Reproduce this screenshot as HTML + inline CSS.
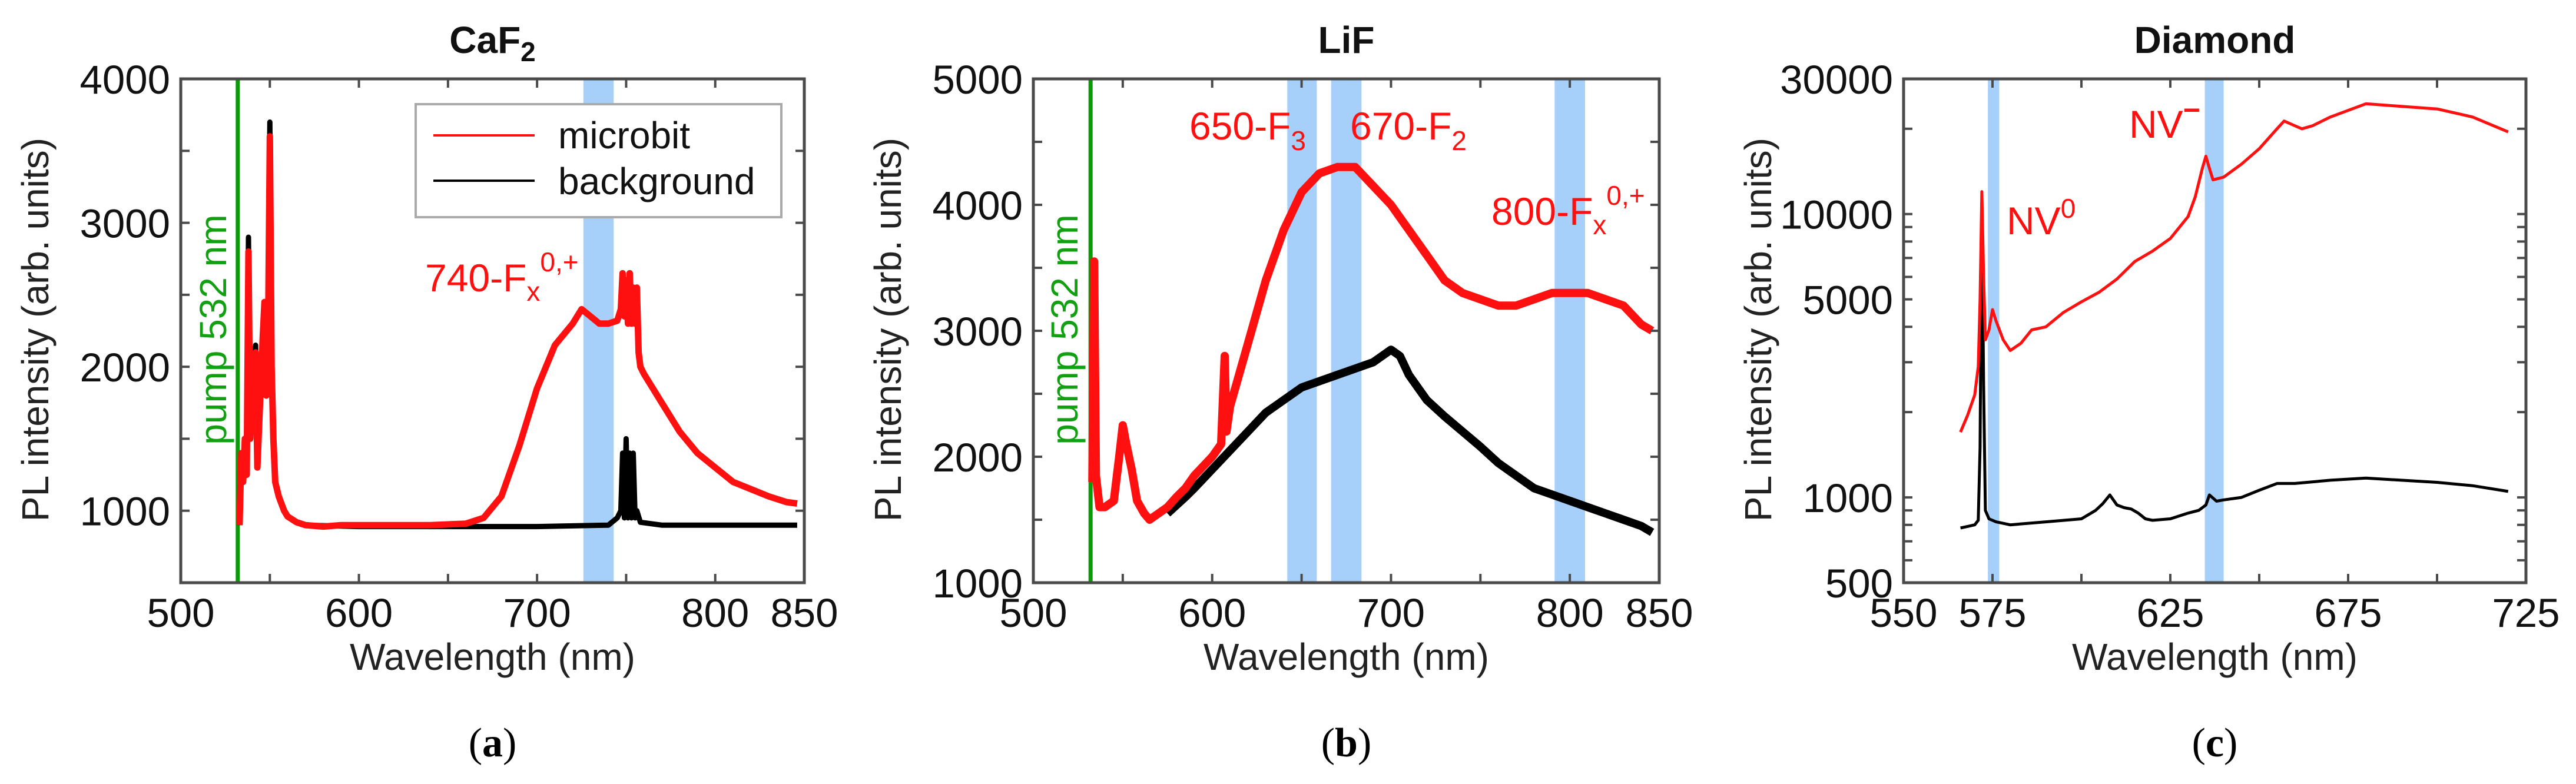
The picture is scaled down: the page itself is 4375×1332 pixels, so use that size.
<!DOCTYPE html>
<html><head><meta charset="utf-8"><style>
body{margin:0;background:#fff;}
svg{display:block;font-family:"Liberation Sans",Arial,sans-serif;}
</style></head><body>
<svg id="fig" width="4375" height="1332" viewBox="0 0 4375 1332" xmlns="http://www.w3.org/2000/svg"></svg>
<script>
// ---- Panel A (CaF2) data ----
const aRedX=[533,534,535,536,537,538,539,540,542,543,544,546,547,548,549,550,551,552,553,555,558,560,565,570,580,590,600,620,640,660,670,680,690,700,710,720,725,730,735,740,745,747,748,749,750,751,752,753,754,755,756,757,758,760,770,780,790,800,810,820,830,840,846];
const aRedY=[900,1400,1200,1500,1250,2800,1500,2000,2100,1300,1600,2200,2450,1800,2200,3600,2000,1500,1200,1100,1000,960,920,900,890,900,900,900,900,910,950,1100,1450,1850,2150,2300,2400,2350,2300,2300,2320,2400,2650,2350,2600,2300,2650,2300,2550,2300,2550,2100,2000,1950,1750,1550,1400,1300,1200,1150,1100,1060,1050];
const aBgX=[533,534,535,536,537,538,539,540,542,543,544,546,547,548,549,550,551,552,553,555,558,560,565,570,600,650,700,740,745,747,748,749,750,751,752,753,754,755,756,758,770,800,846];
const aBgY=[900,1400,1200,1500,1250,2900,1500,2000,2150,1300,1600,2250,2450,1800,2200,3700,2000,1500,1200,1100,1000,960,920,900,890,890,890,900,950,1000,1400,950,1500,950,1400,950,1400,950,1000,920,900,900,900];
const aBands=[[726,743]];
const aXTicks=[500,550,600,650,700,750,800,850];
const aXLabels=[500,600,700,800,850];
const aYTicks=[500,1000,1500,2000,2500,3000,3500,4000];
const aYLabels=[1000,2000,3000,4000];
// ---- Panel B (LiF) data ----
const bRedX=[533,534,535,537,540,545,548,550,552,555,558,562,565,570,575,580,585,590,600,605,607,608,610,620,630,640,650,660,670,680,690,700,710,720,730,740,750,760,770,780,790,800,810,820,830,840,846];
const bRedY=[1800,3550,1850,1600,1600,1650,2000,2250,2100,1900,1650,1550,1500,1550,1600,1680,1750,1850,2000,2100,2800,2200,2400,2900,3400,3800,4100,4250,4300,4300,4150,4000,3800,3600,3400,3300,3250,3200,3200,3250,3300,3300,3300,3250,3200,3050,3000];
const bBgX=[575,585,590,600,610,620,630,640,650,660,670,680,690,700,705,710,720,730,740,750,760,770,780,790,800,810,820,830,840,846];
const bBgY=[1550,1680,1750,1900,2050,2200,2350,2450,2550,2600,2650,2700,2750,2850,2800,2650,2450,2320,2200,2080,1950,1850,1750,1700,1650,1600,1550,1500,1450,1400];
const bBands=[[642,658.5],[666.5,683.5],[791.5,808.5]];
const bXTicks=[500,550,600,650,700,750,800,850];
const bXLabels=[500,600,700,800,850];
const bYTicks=[1000,1500,2000,2500,3000,3500,4000,4500,5000];
const bYLabels=[1000,2000,3000,4000,5000];
// ---- Panel C (Diamond) data ----
const cRedX=[566,568,570,571,571.5,572,572.5,573,574,575,576,578,580,583,586,590,595,600,605,610,615,620,625,630,632,634,635,636,637,640,645,650,655,657,660,662,665,670,680,690,700,710,720];
const cRedY=[1700,1950,2300,2900,5000,12000,6000,3600,3900,4600,4200,3600,3300,3500,3900,4000,4500,4900,5300,5900,6800,7400,8200,9800,11500,14500,16000,14500,13200,13500,15000,17000,20000,21300,20500,20000,20500,22000,24500,24000,23500,22000,19500];
const cBgX=[566,568,570,571,571.5,572,572.5,573,574,576,580,585,590,600,604,606,608,610,612,614,616,618,620,625,630,633,635,636,638,640,645,650,655,660,670,680,690,700,710,720];
const cBgY=[780,790,800,830,1500,11000,2500,900,840,820,800,810,820,840,900,950,1020,940,920,910,880,840,830,840,880,900,940,1020,970,980,1000,1060,1120,1120,1150,1170,1150,1130,1100,1050];
const cBands=[[573.7,576.9],[634.7,640]];
const cXTicks=[550,575,600,625,650,675,700,725];
const cXLabels=[550,575,625,675,725];
const cYMinor=[500,600,700,800,900,1000,2000,3000,4000,5000,6000,7000,8000,9000,10000,20000,30000];
const cYLabels=[500,1000,5000,10000,30000];

const NS="http://www.w3.org/2000/svg";
const svg=document.getElementById('fig');
function el(tag,attrs,parent,text){const e=document.createElementNS(NS,tag);for(const k in attrs)e.setAttribute(k,attrs[k]);if(text!==undefined)e.textContent=text;(parent||svg).appendChild(e);return e;}

function panel(cfg){
  const g=el('g',{});
  
  
  const L=cfg.L,R=cfg.R,T=134,B=990;
  const xs=v=>L+(v-cfg.x0)/(cfg.x1-cfg.x0)*(R-L);
  const ys=cfg.log?(v=>B-(Math.log10(v)-Math.log10(cfg.y0))/(Math.log10(cfg.y1)-Math.log10(cfg.y0))*(B-T)):(v=>B-(v-cfg.y0)/(cfg.y1-cfg.y0)*(B-T));
  cfg.bands.forEach(b=>{const r=el('rect',{x:xs(b[0]),y:T,width:xs(b[1])-xs(b[0]),height:B-T,fill:'#a6cffa'},g);
    
    });
  if(cfg.pump){const p=el('line',{x1:xs(532),x2:xs(532),y1:T,y2:B,stroke:'#0a9a0a','stroke-width':7},g);
    
    
    const pt=el('text',{x:cfg.pumpX,y:560,fill:'#12a012','font-size':64,'text-anchor':'middle',transform:`rotate(-90 ${cfg.pumpX} 560)`},g,'pump 532 nm');
    
    }
  function series(X,Y,color,w,name){
    const d=X.map((x,i)=>(i?'L':'M')+xs(x).toFixed(1)+' '+ys(Y[i]).toFixed(1)).join(' ');
    const p=el('path',{d:d,fill:'none',stroke:color,'stroke-width':w,'stroke-linejoin':'round'},g);
    
    
  }
  series(cfg.bgX,cfg.bgY,'#000',cfg.bw,'background-series');
  series(cfg.redX,cfg.redY,'#ff1010',cfg.rw,'microbit-series');
  const f=el('rect',{x:L,y:T,width:R-L,height:B-T,fill:'none',stroke:'#4a4a4a','stroke-width':5},g);
  
  
  cfg.xTicks.forEach(v=>{const x=xs(v);
    el('line',{x1:x,x2:x,y1:B,y2:B-15,stroke:'#4a4a4a','stroke-width':4},g);
    el('line',{x1:x,x2:x,y1:T,y2:T+15,stroke:'#4a4a4a','stroke-width':4},g);});
  cfg.xLabels.forEach(v=>{const t=el('text',{x:xs(v),y:1065,'font-size':69,'text-anchor':'middle',fill:'#111'},g,String(v));
    
    });
  cfg.yTicks.forEach(v=>{const y=ys(v);
    el('line',{x1:L,x2:L+15,y1:y,y2:y,stroke:'#4a4a4a','stroke-width':4},g);
    el('line',{x1:R,x2:R-15,y1:y,y2:y,stroke:'#4a4a4a','stroke-width':4},g);});
  cfg.yLabels.forEach(v=>{const t=el('text',{x:L-18,y:ys(v)+25,'font-size':69,'text-anchor':'end',fill:'#111'},g,String(v));
    
    });
  const tt=el('text',{x:(L+R)/2,y:90,'font-size':64,'font-weight':'bold','text-anchor':'middle',fill:'#111'},g);
  
  
  tt.innerHTML=cfg.title;
  const xl=el('text',{x:(L+R)/2,y:1138,'font-size':64,'text-anchor':'middle',fill:'#222'},g,'Wavelength (nm)');
  
  
  const yx=cfg.L-225;
  const yl=el('text',{x:yx,y:560,'font-size':64,'text-anchor':'middle',fill:'#222',transform:`rotate(-90 ${yx} 560)`},g,'PL intensity (arb. units)');
  
  
  const cap=el('text',{x:(L+R)/2,y:1285,'font-size':70,'text-anchor':'middle',fill:'#000','font-family':'"Liberation Serif",serif'},g);
  
  
  cap.innerHTML='(<tspan font-weight="bold">'+cfg.cap+'</tspan>)';
  cfg.annots.forEach(a=>{const t=el('text',{x:a[0],y:a[1],'font-size':66,fill:'#ff1010'},g);
    
    
    t.innerHTML=a[2];});
  return g;
}
const sub=(s)=>'<tspan dy="18" font-size="46">'+s+'</tspan>';
panel({name:'panel-a-caf2',L:307,R:1366,x0:500,x1:850,y0:500,y1:4000,redX:aRedX,redY:aRedY,bgX:aBgX,bgY:aBgY,rw:11,bw:9,bands:aBands,pump:true,pumpX:384,
  xTicks:aXTicks,xLabels:aXLabels,yTicks:aYTicks,yLabels:aYLabels,title:'CaF<tspan dy="14" font-size="46">2</tspan>',cap:'a',
  annots:[[722,495,'740-F<tspan dy="16" font-size="46">x</tspan><tspan dy="-50" font-size="46">0,+</tspan>']]});
panel({name:'panel-b-lif',L:1755,R:2818,x0:500,x1:850,y0:1000,y1:5000,redX:bRedX,redY:bRedY,bgX:bBgX,bgY:bBgY,rw:14,bw:14,bands:bBands,pump:true,pumpX:1830,
  xTicks:bXTicks,xLabels:bXLabels,yTicks:bYTicks,yLabels:bYLabels,title:'LiF',cap:'b',
  annots:[[2020,237,'650-F'+sub('3')],[2293,237,'670-F'+sub('2')],[2533,382,'800-F<tspan dy="16" font-size="46">x</tspan><tspan dy="-50" font-size="46">0,+</tspan>']]});
panel({name:'panel-c-diamond',L:3233,R:4290,x0:550,x1:725,y0:500,y1:30000,log:true,redX:cRedX,redY:cRedY,bgX:cBgX,bgY:cBgY,rw:5,bw:5,bands:cBands,pump:false,
  xTicks:cXTicks,xLabels:cXLabels,yTicks:cYMinor,yLabels:cYLabels,title:'Diamond',cap:'c',
  annots:[[3408,398,'NV<tspan dy="-28" font-size="46">0</tspan>'],[3616,234,'NV<tspan dy="-30" font-size="50" font-weight="bold">−</tspan>']]});
const lg=el('g',{});


el('rect',{x:706,y:177,width:621,height:192,fill:'#fff',stroke:'#aaa','stroke-width':4},lg);
el('line',{x1:736,x2:908,y1:230,y2:230,stroke:'#ff1010','stroke-width':4},lg);
el('line',{x1:736,x2:908,y1:307,y2:307,stroke:'#000','stroke-width':4},lg);
const l1=el('text',{x:948,y:252,'font-size':64,fill:'#111'},lg,'microbit');


const l2=el('text',{x:948,y:330,'font-size':64,fill:'#111'},lg,'background');


</script>
</body></html>
